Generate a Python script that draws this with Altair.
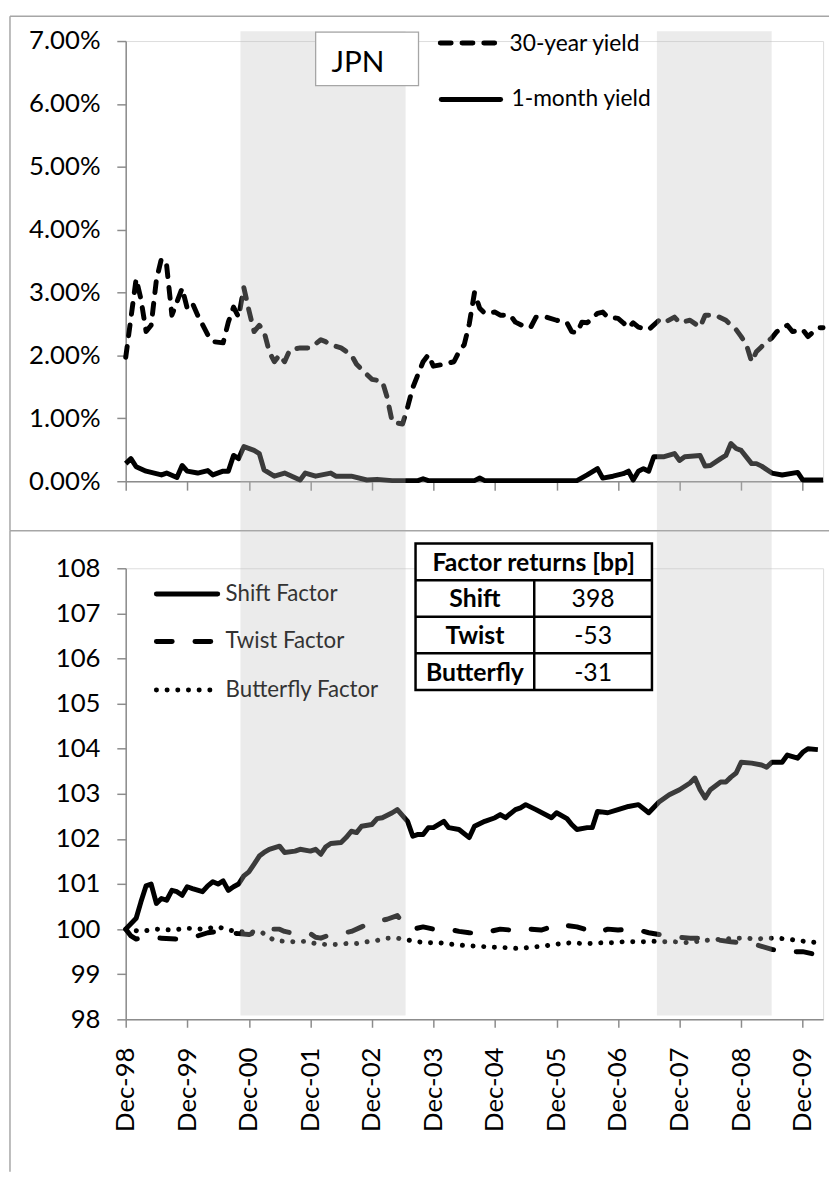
import altair as alt
import pandas as pd

START = pd.Timestamp("1998-12-01")

# ---------------- data (month index counted from Dec-98) ----------------
y30_month = [0,2,3,4,5,6,7,8,9,11,12,13,14,16,17,19,20,21,22,23,24,25,26,27,28,29,30,31,32,34,36,38,39,40,42,44,45,47,48,50,51,52,54,55,56,57,58,59,60,62,64,65,66,67,68,69,70,72,73,75,76,78,79,80,82,84,86,87,88,89,90,92,93,94,96,97,98,99,100,102,104,105,107,108,110,112,113,115,117,118,119,120,121,122,123,124,126,127,129,130,132,133,135,136]
y30_value = [1.97,3.22,2.90,2.38,2.48,3.20,3.54,3.43,2.64,3.07,2.75,2.83,2.64,2.33,2.22,2.20,2.53,2.77,2.61,3.08,2.72,2.38,2.48,2.38,2.06,1.90,2.01,1.90,2.09,2.12,2.12,2.25,2.22,2.17,2.12,2.01,1.86,1.70,1.62,1.59,1.34,0.94,0.91,1.18,1.49,1.70,1.90,2.01,1.83,1.86,1.90,2.06,2.17,2.50,3.00,2.75,2.67,2.69,2.64,2.64,2.53,2.45,2.45,2.61,2.61,2.56,2.52,2.38,2.36,2.53,2.52,2.67,2.69,2.61,2.59,2.52,2.44,2.52,2.45,2.41,2.56,2.52,2.61,2.52,2.56,2.45,2.64,2.64,2.56,2.48,2.41,2.30,2.17,1.90,2.06,2.14,2.28,2.38,2.48,2.38,2.41,2.30,2.44,2.44]

m1_month = [0,1,2,4,7,8,10,11,12,14,16,17,19,20,21,22,23,25,26,27,29,31,34,35,37,40,41,44,47,49,52,57,58,59,68,69,70,88,90,92,93,95,97,98,99,100,101,102,103,105,107,108,109,112,113,114,116,117,118,119,120,122,123,124,126,128,131,132,136]
m1_value = [0.28,0.36,0.23,0.16,0.10,0.13,0.06,0.25,0.16,0.13,0.17,0.10,0.16,0.16,0.41,0.36,0.55,0.49,0.44,0.18,0.08,0.13,0.02,0.13,0.08,0.13,0.08,0.08,0.02,0.03,0.01,0.01,0.04,0.01,0.01,0.05,0.01,0.01,0.10,0.20,0.05,0.08,0.12,0.16,0.02,0.16,0.20,0.16,0.39,0.39,0.44,0.33,0.39,0.41,0.24,0.25,0.36,0.41,0.60,0.52,0.49,0.28,0.28,0.24,0.13,0.10,0.14,0.02,0.02]

shift_month = [0,2,3,4,5,6,7,8,9,10,11,12,13,15,16,17,18,19,20,21,22,23,24,25,26,27,28,30,31,33,34,36,37,38,39,40,42,43,44,45,46,48,49,50,52,53,55,56,57,58,59,60,62,63,65,67,68,70,72,73,74,76,77,78,80,83,84,86,87,88,90,91,92,94,96,98,100,102,104,106,108,110,111,112,113,114,116,117,118,119,120,122,124,125,126,128,129,131,132,133,135]
shift_value = [100.0,100.24,100.6,100.96,101.0,100.57,100.68,100.64,100.86,100.83,100.75,100.94,100.9,100.83,100.96,101.05,101.0,101.07,100.86,100.94,101.0,101.18,101.27,101.44,101.62,101.7,101.77,101.84,101.7,101.73,101.77,101.73,101.77,101.66,101.82,101.9,101.92,102.03,102.17,102.14,102.28,102.32,102.45,102.47,102.58,102.65,102.39,102.06,102.1,102.1,102.25,102.25,102.39,102.25,102.21,102.03,102.28,102.39,102.47,102.54,102.47,102.65,102.69,102.76,102.65,102.47,102.58,102.45,102.32,102.21,102.25,102.25,102.61,102.58,102.65,102.72,102.76,102.58,102.82,102.98,103.09,103.24,103.35,103.09,102.91,103.09,103.26,103.26,103.37,103.46,103.7,103.68,103.64,103.59,103.7,103.7,103.86,103.79,103.92,104.0,103.98]

twist_month = [0,1,2,4,7,10,12,14,16,18,20,22,24,26,28,30,31,33,35,36,37,38,40,42,44,46,48,50,51,53,54,56,58,60,63,65,67,69,71,73,75,77,79,81,83,85,86,88,90,92,94,96,98,100,102,104,106,108,110,112,114,116,118,120,122,124,126,128,130,132,134,135]
twist_value = [100.0,99.85,99.78,99.82,99.8,99.78,99.82,99.85,99.92,99.95,99.92,99.9,99.88,99.95,100.0,100.0,99.95,99.9,99.92,99.9,99.82,99.8,99.88,99.9,99.95,100.05,100.15,100.2,100.22,100.3,100.15,100.0,100.05,100.0,100.0,99.95,99.92,99.9,99.95,100.0,99.98,99.95,100.0,99.98,100.05,100.12,100.08,100.05,99.98,99.92,100.0,99.98,100.0,99.98,99.92,99.88,99.85,99.82,99.8,99.8,99.78,99.75,99.72,99.7,99.68,99.62,99.55,99.52,99.5,99.5,99.45,99.45]

bfly_month = [0,3,6,9,12,15,18,20,22,24,26,27,29,31,33,35,37,39,41,43,45,47,49,51,53,55,57,59,61,63,65,67,69,71,73,75,77,79,81,83,85,87,89,91,93,95,97,99,101,103,105,107,109,111,113,115,117,119,121,123,125,127,129,131,133,135]
bfly_value = [100.0,99.95,100.0,99.98,100.02,100.0,100.05,99.98,99.95,99.93,99.95,99.9,99.75,99.73,99.72,99.73,99.68,99.66,99.66,99.68,99.68,99.72,99.75,99.8,99.8,99.76,99.72,99.7,99.7,99.67,99.65,99.63,99.62,99.6,99.6,99.58,99.57,99.6,99.62,99.65,99.68,99.7,99.68,99.68,99.7,99.7,99.72,99.72,99.72,99.73,99.72,99.72,99.7,99.72,99.75,99.77,99.78,99.8,99.8,99.78,99.8,99.8,99.78,99.75,99.72,99.7]

band_start = ["2000-10-12", "2007-07-20"]
band_end = ["2003-06-19", "2009-05-31"]

tick_years = list(range(1998, 2010))
panel_label = "JPN"
top_legend = ["30-year yield", "1-month yield"]
bottom_legend = ["Shift Factor", "Twist Factor", "Butterfly Factor"]
table_title = "Factor returns [bp]"
table_names = ["Shift", "Twist", "Butterfly"]
table_values = [398, -53, -31]


def series(months, values):
    return pd.DataFrame({"date": [START + pd.DateOffset(months=int(m)) for m in months],
                         "v": values})


bands = pd.DataFrame({"start": pd.to_datetime(band_start), "end": pd.to_datetime(band_end)})
ONE = pd.DataFrame({"k": [0]})

# ---------------- layout ----------------
W, H1, H2, GAP = 705, 445, 456, 88
FONT = "Lato"
AXC = dict(domainColor="#8c8c8c", tickColor="#8c8c8c", domainWidth=1.5, tickWidth=1.5,
           grid=False, title=None, labelFont=FONT, labelFontSize=26, labelColor="black")
FRAME = dict(color="#a6a6a6", strokeWidth=1.5)

xscale = alt.Scale(domain=[alt.DateTime(year=1998, month=12, date=1),
                           alt.DateTime(year=2010, month=4, date=1)])
ticks = [alt.DateTime(year=y, month=12, date=1) for y in tick_years]


def hline(x1, x2, y, **kw):
    return alt.Chart(ONE).mark_rule(**kw).encode(x=alt.value(x1), x2=alt.value(x2), y=alt.value(y))


def vline(x, y1, y2, **kw):
    return alt.Chart(ONE).mark_rule(**kw).encode(x=alt.value(x), y=alt.value(y1), y2=alt.value(y2))


def label(x, y, text, **kw):
    return alt.Chart(ONE).mark_text(**kw).encode(x=alt.value(x), y=alt.value(y), text=alt.value(text))


def box(x1, x2, y1, y2, **kw):
    return alt.Chart(ONE).mark_rect(**kw).encode(x=alt.value(x1), x2=alt.value(x2),
                                                  y=alt.value(y1), y2=alt.value(y2))


BAND = dict(fill="#c0c0c0", opacity=0.31)

# ---------------- top panel ----------------
xtop = alt.X("date:T", scale=xscale,
             axis=alt.Axis(values=ticks, labels=False, tickSize=9, **AXC))
ytop = alt.Y("v:Q", scale=alt.Scale(domain=[0, 7], nice=False),
             axis=alt.Axis(values=list(range(8)), tickSize=9, labelPadding=17,
                           labelExpr="format(datum.value, '.2f') + '%'", **AXC))

l30 = alt.Chart(series(y30_month, y30_value)).mark_line(
    color="black", strokeWidth=5, strokeDash=[11, 11], strokeCap="round", strokeJoin="round"
).encode(x=xtop, y=ytop)
l1m = alt.Chart(series(m1_month, m1_value)).mark_line(
    color="black", strokeWidth=5, strokeJoin="round"
).encode(x="date:T", y="v:Q")
band_top = alt.Chart(bands).mark_rect(**BAND).encode(
    x="start:T", x2="end:T", y=alt.value(-10), y2=alt.value(495))

top_layers = [l30, l1m, band_top,
              box(192, 296, -9, 45, fill="white", stroke="#a6a6a6", strokeWidth=1.3),
              label(208, 22, panel_label, fontSize=30, font=FONT, align="left", baseline="middle", color="black"),
              hline(318, 377, 2, color="black", strokeWidth=5, strokeDash=[11, 11], strokeCap="round"),
              hline(319, 379, 59, color="black", strokeWidth=5, strokeCap="round"),
              label(388, 3, top_legend[0], fontSize=23, font=FONT, align="left", baseline="middle", color="black"),
              label(390, 59, top_legend[1], fontSize=23, font=FONT, align="left", baseline="middle", color="black"),
              hline(-117, 711, -25, **FRAME),
              vline(-117, -25, 495, **FRAME),
              hline(-117, 711, 495, **FRAME)]
top = alt.layer(*top_layers).properties(width=W, height=H1)

# ---------------- bottom panel ----------------
xbot = alt.X("date:T", scale=xscale,
             axis=alt.Axis(values=ticks, format="%b-%y", labelAngle=270, labelPadding=20,
                           tickSize=8, **AXC))
ybot = alt.Y("v:Q", scale=alt.Scale(domain=[98, 108], nice=False, zero=False),
             axis=alt.Axis(values=list(range(98, 109)), tickSize=9, labelPadding=17, **AXC))

ls = alt.Chart(series(shift_month, shift_value)).mark_line(
    color="black", strokeWidth=5, strokeJoin="round").encode(x=xbot, y=ybot)
lt = alt.Chart(series(twist_month, twist_value)).mark_line(
    color="black", strokeWidth=5, strokeDash=[16, 23], strokeCap="round", strokeJoin="round"
).encode(x="date:T", y="v:Q")
lb = alt.Chart(series(bfly_month, bfly_value)).mark_line(
    color="black", strokeWidth=5, strokeDash=[0.1, 10.7], strokeCap="round"
).encode(x="date:T", y="v:Q")
band_bot = alt.Chart(bands).mark_rect(**BAND).encode(
    x="start:T", x2="end:T", y=alt.value(-38), y2=alt.value(452))

leg_y = [26, 74, 123]
bot_layers = [ls, lt, lb, band_bot,
              hline(31, 93, leg_y[0], color="black", strokeWidth=5, strokeCap="round"),
              hline(31, 88, leg_y[1], color="black", strokeWidth=5, strokeDash=[16, 23], strokeCap="round"),
              hline(31, 88, leg_y[2], color="black", strokeWidth=5, strokeDash=[0.1, 10.7], strokeCap="round")]
for yy, txt in zip(leg_y, bottom_legend):
    bot_layers.append(label(101, yy, txt, fontSize=22.5, font=FONT, align="left",
                            baseline="middle", color="#333333"))

# table
TX1, TX2, TXC, TY1 = 293, 532, 413, -25
row_edges = [12, 49, 86, 123]
bot_layers.append(box(TX1, TX2, TY1, row_edges[-1], fill="white", stroke="black", strokeWidth=2.5))
for ye in row_edges[:-1]:
    bot_layers.append(hline(TX1, TX2, ye, color="black", strokeWidth=2.5))
bot_layers.append(vline(TXC, row_edges[0], row_edges[-1], color="black", strokeWidth=2.5))
bot_layers.append(label((TX1 + TX2) / 2, (TY1 + row_edges[0]) / 2 + 1, table_title, fontSize=25,
                        font=FONT, fontWeight="bold", align="center", baseline="middle", color="black"))
for i, (nm, val) in enumerate(zip(table_names, table_values)):
    yc = (row_edges[i] + row_edges[i + 1]) / 2 + 1
    bot_layers.append(label((TX1 + TXC) / 2, yc, nm, fontSize=25, font=FONT, fontWeight="bold",
                            align="center", baseline="middle", color="black"))
    bot_layers.append(label((TXC + TX2) / 2, yc, str(val), fontSize=25, font=FONT,
                            align="center", baseline="middle", color="black"))

bot_layers.append(vline(-117, -38, 610, **FRAME))
bottom = alt.layer(*bot_layers).properties(width=W, height=H2)

chart = alt.vconcat(top, bottom, spacing=GAP, bounds="flush").properties(
    padding=0, background="white"
).configure_view(stroke=None).configure(font=FONT)

chart.save("out.html", embed_options={"renderer": "svg", "actions": False})
